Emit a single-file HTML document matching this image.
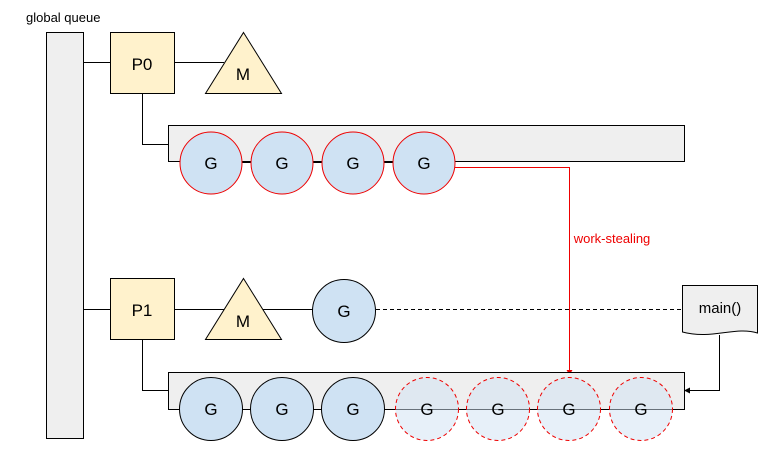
<!DOCTYPE html>
<html><head><style>body{margin:0;background:#fff}</style></head><body>
<svg width="770" height="446" xmlns="http://www.w3.org/2000/svg" font-family="Liberation Sans, sans-serif">
<text x="26" y="22" font-size="13" fill="#000">global queue</text>
<rect x="46.5" y="32.5" width="37" height="406" fill="#efefef" stroke="#000"/>
<g stroke="#000" fill="none">
<path d="M84 62.5H110M174 62.5H224M142.5 93V144.5H168"/>
<path d="M84 309.5H110M174 309.5H224M262 309.5H313M142.5 339V390.5H168"/>
<path d="M376 309.5H682" stroke-dasharray="4,3"/>
<path d="M719.5 335V390.5H686"/>
</g>
<path d="M684 390.5l6-3v6z" fill="#000"/>
<rect x="110.5" y="32.5" width="64" height="61" fill="#fff2cc" stroke="#000"/>
<text x="142" y="70" font-size="17" text-anchor="middle">P0</text>
<path d="M243.5 32.5L281.5 93.5H205.5Z" fill="#fff2cc" stroke="#000"/>
<text x="243" y="80" font-size="17" text-anchor="middle">M</text>
<rect x="168.5" y="125.5" width="516" height="36" fill="#efefef" stroke="#000"/>
<path d="M180 162.5H455" stroke="#000"/>
<g fill="#cfe2f3" stroke="#e00" stroke-width="1">
<circle cx="211" cy="163" r="31"/><circle cx="282" cy="163" r="31"/><circle cx="353" cy="163" r="31"/><circle cx="424" cy="163" r="31"/>
</g>
<g font-size="17" text-anchor="middle"><text x="211" y="169">G</text><text x="282" y="169">G</text><text x="353" y="169">G</text><text x="424" y="169">G</text></g>
<path d="M455 167.5H569.5V371" stroke="#e00" fill="none"/>
<path d="M569.5 375l-3-5h6z" fill="#e00"/>
<text x="612" y="243" font-size="13" fill="#e00" text-anchor="middle">work-stealing</text>
<rect x="110.5" y="278.5" width="64" height="61" fill="#fff2cc" stroke="#000"/>
<text x="142" y="316" font-size="17" text-anchor="middle">P1</text>
<path d="M243.5 278.5L281.5 339.5H205.5Z" fill="#fff2cc" stroke="#000"/>
<text x="243" y="327" font-size="17" text-anchor="middle">M</text>
<circle cx="344" cy="311" r="31.5" fill="#cfe2f3" stroke="#000"/>
<text x="344" y="317" font-size="17" text-anchor="middle">G</text>
<path d="M682.5 285.5H757.5V333C735 326 712 340 682.5 332Z" fill="#efefef" stroke="#000"/>
<text x="720" y="313" font-size="15" text-anchor="middle">main()</text>
<rect x="168.5" y="372.5" width="516" height="37" fill="#efefef" stroke="#000"/>
<path d="M180 409.5H674" stroke="#000"/>
<g fill="#cfe2f3" stroke="#000"><circle cx="211" cy="409" r="31.5"/><circle cx="282" cy="409" r="31.5"/><circle cx="353" cy="409" r="31.5"/></g>
<g fill="rgba(207,226,243,0.5)" stroke="#e00" stroke-dasharray="4,3"><circle cx="427" cy="409" r="31.5"/><circle cx="498" cy="409" r="31.5"/><circle cx="569" cy="409" r="31.5"/><circle cx="641" cy="409" r="31.5"/></g>
<g font-size="17" text-anchor="middle"><text x="211" y="415">G</text><text x="282" y="415">G</text><text x="353" y="415">G</text><text x="427" y="415">G</text><text x="498" y="415">G</text><text x="569" y="415">G</text><text x="641" y="415">G</text></g>
</svg>
</body></html>
